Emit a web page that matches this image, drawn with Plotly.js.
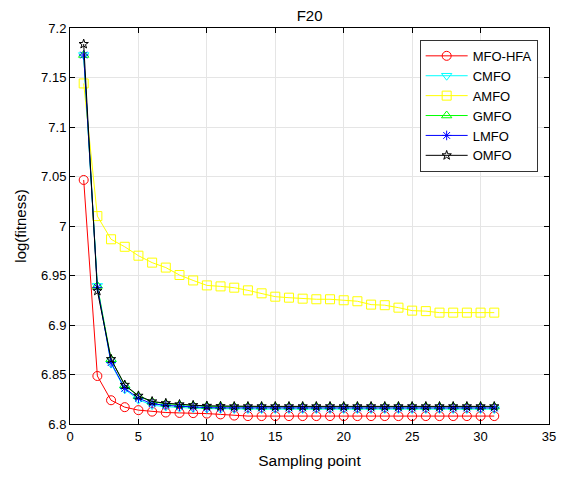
<!DOCTYPE html>
<html>
<head>
<meta charset="utf-8">
<script src="https://cdn.plot.ly/plotly-3.0.1.min.js"></script>
<style>html,body{margin:0;padding:0;background:#fff;}#chart{width:564px;height:477px;}</style>
</head>
<body>
<div id="chart"></div>
<script>
const samplingPoints = [1,2,3,4,5,6,7,8,9,10,11,12,13,14,15,16,17,18,19,20,21,22,23,24,25,26,27,28,29,30,31];
const seriesNames = ["MFO-HFA","CMFO","AMFO","GMFO","LMFO","OMFO"];
const mfoHfa = [7.0465,6.8485,6.824,6.817,6.814,6.8125,6.8116,6.8112,6.811,6.8105,6.8097,6.8085,6.808,6.808,6.808,6.808,6.808,6.808,6.808,6.808,6.808,6.808,6.808,6.808,6.808,6.808,6.808,6.808,6.808,6.808,6.808];
const cmfo = [7.1727,6.9395,6.861,6.835,6.8245,6.819,6.8175,6.8165,6.816,6.8155,6.8152,6.815,6.815,6.815,6.815,6.815,6.815,6.815,6.815,6.815,6.815,6.815,6.815,6.815,6.815,6.815,6.815,6.815,6.815,6.815,6.815];
const amfo = [7.144,7.010,6.9866,6.979,6.970,6.963,6.958,6.9505,6.945,6.940,6.939,6.9377,6.935,6.932,6.9286,6.9276,6.9266,6.926,6.926,6.925,6.924,6.9206,6.920,6.9175,6.9145,6.914,6.9125,6.9125,6.9125,6.9125,6.9125];
const gmfo = [7.1727,6.9395,6.8655,6.839,6.828,6.8225,6.8205,6.8195,6.8185,6.818,6.8178,6.8175,6.8175,6.8175,6.8175,6.8175,6.8175,6.8175,6.8175,6.8175,6.8175,6.8175,6.8175,6.8175,6.8175,6.8175,6.8175,6.8175,6.8175,6.8175,6.8175];
const lmfo = [7.1727,6.938,6.862,6.836,6.826,6.8205,6.8188,6.8178,6.817,6.8165,6.8163,6.8162,6.8162,6.8162,6.8162,6.8162,6.8162,6.8162,6.8162,6.8162,6.8162,6.8162,6.8162,6.8162,6.8162,6.8162,6.8162,6.8162,6.8162,6.8162,6.8162];
const omfo = [7.1838,6.9345,6.8655,6.8395,6.8285,6.8228,6.821,6.8198,6.819,6.8183,6.818,6.8178,6.8178,6.8178,6.8178,6.8178,6.8178,6.8178,6.8178,6.8178,6.8178,6.8178,6.8178,6.8178,6.8178,6.8178,6.8178,6.8178,6.8178,6.8178,6.8178];

const allValues = [mfoHfa, cmfo, amfo, gmfo, lmfo, omfo];
const colors = ["#ff0000","#00ffff","#ffff00","#00ff00","#0000ff","#000000"];
const symbols = ["circle-open","triangle-down-open","square-open","triangle-up-open","asterisk-open","star-open"];
const sizes = [9,9,9,9,8,7];

const traces = allValues.map((vals, i) => ({
  x: samplingPoints,
  y: vals,
  name: seriesNames[i],
  type: "scatter",
  mode: "lines+markers",
  line: {color: colors[i], width: 1},
  marker: {symbol: symbols[i], color: colors[i], size: sizes[i], line: {color: colors[i], width: 1}}
}));

const axisCommon = {
  showline: true, linecolor: "#000", linewidth: 1, mirror: "ticks",
  ticks: "inside", ticklen: 5, tickcolor: "#000",
  showgrid: true, gridcolor: "#e5e5e5", gridwidth: 1,
  zeroline: false,
  tickfont: {family: "Liberation Sans, Arial, sans-serif", size: 13, color: "#000"}
};

const layout = {
  width: 564, height: 477,
  margin: {l: 70, r: 15, t: 28, b: 53},
  paper_bgcolor: "#fff", plot_bgcolor: "#fff",
  font: {family: "Liberation Sans, Arial, sans-serif", color: "#000"},
  title: {text: "F20", font: {size: 15, color: "#000"}, x: 0.549, xanchor: "center", y: 0.968, yanchor: "middle"},
  xaxis: Object.assign({}, axisCommon, {
    range: [0, 35], dtick: 5, tick0: 0,
    title: {text: "Sampling point", font: {size: 15.5, color: "#000"}, standoff: 12}
  }),
  yaxis: Object.assign({}, axisCommon, {
    range: [6.8, 7.2], dtick: 0.05, tick0: 6.8,
    title: {text: "log(fitness)", font: {size: 15, color: "#000"}, standoff: 10}
  }),
  legend: {
    x: 0.73, y: 0.97, xanchor: "left", yanchor: "top",
    bgcolor: "#fff", bordercolor: "#333", borderwidth: 1,
    font: {size: 13, color: "#000"},
    tracegroupgap: 0, itemwidth: 42
  },
  showlegend: true
};

Plotly.newPlot("chart", traces, layout, {staticPlot: true, displayModeBar: false});
</script>
</body>
</html>
